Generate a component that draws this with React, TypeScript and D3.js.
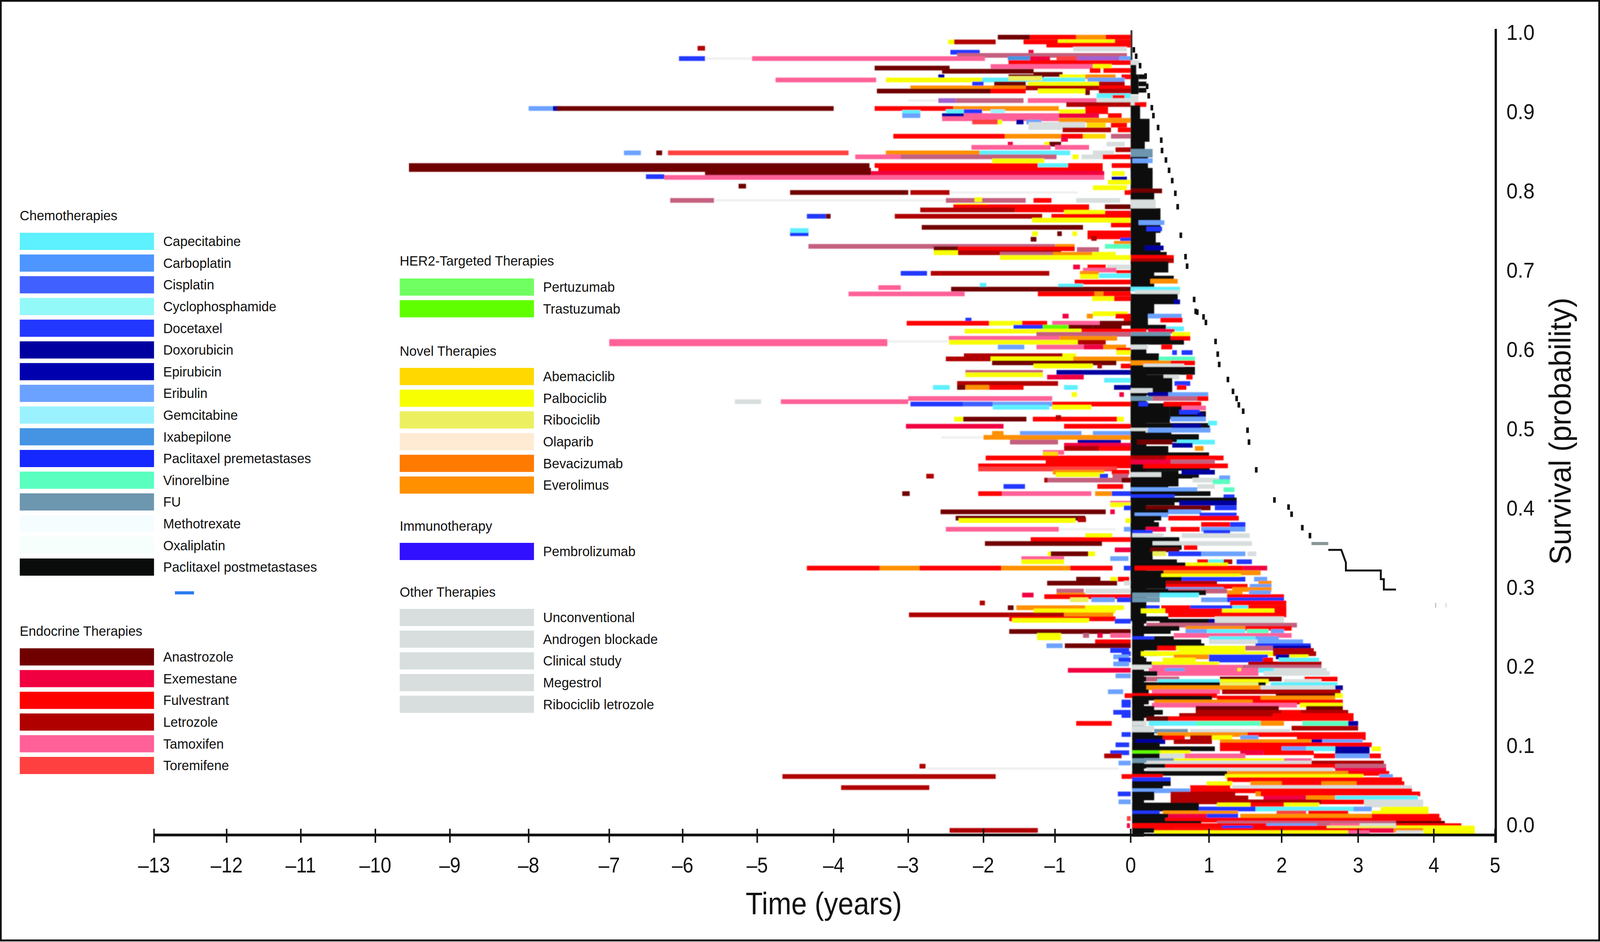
import { scaleLinear, scaleOrdinal, line as d3_line } from "d3";

// [survival, from year, to year, therapy, optional survival where a solid block ends]
type Bar = [number, number, number, string, number?];

const chemoNames = ["Capecitabine", "Carboplatin", "Cisplatin", "Cyclophosphamide", "Docetaxel", "Doxorubicin", "Epirubicin", "Eribulin", "Gemcitabine", "Ixabepilone", "Paclitaxel premetastases", "Vinorelbine", "FU", "Methotrexate", "Oxaliplatin", "Paclitaxel postmetastases"];
const chemoCodes = ["CAP", "CAR", "CIS", "CYC", "DOC", "DOX", "EPI", "ERI", "GEM", "IXA", "PRE", "VIN", "FU", "MTX", "OXA", "PST"];
const chemoColors = ["#5df0ff", "#4d96ff", "#4060ff", "#92f8f8", "#2238ff", "#0000a0", "#0000ae", "#6ca2ff", "#9bf2ff", "#4593e3", "#1428ff", "#5affc0", "#6d96af", "#f6fdff", "#f6fffb", "#0a0b0b"];
const endocrineNames = ["Anastrozole", "Exemestane", "Fulvestrant", "Letrozole", "Tamoxifen", "Toremifene"];
const endocrineCodes = ["ANA", "EXE", "FUL", "LET", "TAM", "TOR"];
const endocrineColors = ["#700000", "#f00040", "#ff0000", "#b00000", "#ff6098", "#ff4040"];
const her2Names = ["Pertuzumab", "Trastuzumab"];
const her2Codes = ["PER", "TRA"];
const her2Colors = ["#70ff60", "#60ff00"];
const novelNames = ["Abemaciclib", "Palbociclib", "Ribociclib", "Olaparib", "Bevacizumab", "Everolimus"];
const novelCodes = ["ABE", "PAL", "RIB", "OLA", "BEV", "EVE"];
const novelColors = ["#ffd800", "#f8ff00", "#ecf060", "#ffebd4", "#ff7a00", "#ff9000"];
const immunoNames = ["Pembrolizumab"];
const immunoCodes = ["PEM"];
const immunoColors = ["#3010ff"];
const otherNames = ["Unconventional", "Androgen blockade", "Clinical study", "Megestrol", "Ribociclib letrozole"];
const otherCodes = ["OTH", "AND", "CLI", "MEG", "RLE"];
const otherColors = ["#d8dede", "#d8dede", "#d8dede", "#d8dede", "#d8dede"];
// overlapping treatments show up as blended colours, gaps between lines as a faint trace
const blendCodes = ["MIX", "PUR", "FNT"];
const blendColors = ["#c4607e", "#a060d0", "#f0f0f0"];

const xTicks = [-13, -12, -11, -10, -9, -8, -7, -6, -5, -4, -3, -2, -1, 0, 1, 2, 3, 4, 5];
const xTickPx = [405, 596, 791, 987, 1183, 1390, 1602, 1795, 1991, 2192, 2388, 2586, 2774, 2973, 3179, 3370, 3571, 3770, 3931];
const yTicks = [0, 0.1, 0.2, 0.3, 0.4, 0.5, 0.6, 0.7, 0.8, 0.9, 1];

const zeroColumn: Bar[] = [
  [1, 0, 0.02, "PST", 0.95], [0.66, 0, 0.2, "PST", 0.46], [0.46, 0, 0.2, "PST", 0.26], [0.26, 0.02, 0.17, "PST", -0.012],
  [0.529, 0, 0.5, "PST", 0.51], [0.526, 0.5, 0.83, "PST", 0.522], [0.519, 0.5, 0.96, "PST", 0.515], [0.504, 0.1, 1.01, "PST"],
  [0.495, 0, 0.52, "PST", 0.485], [0.49, 0.5, 0.87, "PST", 0.486], [0.475, 0, 0.48, "PST", 0.466], [0.467, 0.45, 1, "PST"],
  [0.464, 0, 0.4, "PST", 0.454], [0.456, 0.4, 0.76, "PST", 0.454], [0.45, 0, 1.01, "PST"], [0.444, 0, 0.61, "PST", 0.43], [0.44, 0.6, 0.87, "PST"],
  [0.428, 0, 0.48, "PST", 0.417],
];

const faintTraces: Bar[] = [
  [0.967, -5.7, -5.07, "FNT"], [0.788, -5.58, -2.5, "FNT"], [0.534, -5.3, -4.95, "OTH"], [0.61, -3.28, -2.46, "FNT"], [0.798, -2.45, -0.7, "FNT"],
  [0.071, -2.75, -0.16, "FNT"], [0.373, -0.95, -0.2, "FNT"],
];

const beforeZero100: Bar[] = [
  [0.994, -1.8, -1.35, "ANA"], [0.994, -1.35, -0.72, "FUL"], [0.994, -0.72, -0.33, "EVE"], [0.994, -0.33, 0, "FUL"],
  [0.988, -2.47, -2.39, "PAL"], [0.988, -2.39, -1.83, "LET"], [0.988, -1.44, -0.96, "FUL"], [0.988, -0.96, -0.21, "PAL"], [0.988, -0.21, 0, "FUL"],
  [0.984, -1.12, 0, "FUL"], [0.98, -5.8, -5.7, "LET"], [0.979, -0.76, -0.05, "OTH"],
  [0.975, -2.44, -2.05, "DOC"], [0.975, -1.37, -1.3, "EXE"], [0.971, -2.35, -0.05, "MIX"],
  [0.967, -6.05, -5.7, "DOC"], [0.967, -5.07, -1.98, "TAM"], [0.967, -1.66, -1.35, "IXA"], [0.967, -1.35, -1.07, "EXE"], [0.967, -0.98, -0.71, "TOR"], [0.967, -0.71, -0.15, "PUR"], [0.967, -0.15, 0, "ERI"],
  [0.962, -1.65, 0, "FUL"], [0.957, -1.9, -0.5, "TAM"], [0.957, -0.5, -0.25, "PAL"],
  [0.955, -3.45, -2.45, "ANA"], [0.951, -2.55, -1.3, "ANA"], [0.952, -0.54, -0.4, "FUL"], [0.952, -0.36, 0, "FUL"], [0.947, -1.3, -0.9, "ANA"],
  [0.944, -2.6, -2.52, "DOX"], [0.944, -1.65, -1.16, "ANA"], [0.944, -0.94, -0.6, "PAL"], [0.944, -0.6, -0.2, "EVE"], [0.944, -0.12, 0, "FUL"],
  [0.94, -4.76, -3.43, "TAM"], [0.94, -3.3, -2.02, "PAL"], [0.94, -2.02, -0.6, "CAP"], [0.942, -1.65, -1.18, "RIB"], [0.94, -0.57, -0.08, "ERI"],
  [0.935, -2.15, -2, "DOC"], [0.935, -1.85, -1.41, "ANA"], [0.935, -1.38, -0.42, "PAL"], [0.935, -0.42, -0.08, "LET"],
  [0.93, -2.97, -1.88, "EVE"], [0.93, -1.88, -1.41, "BEV"], [0.93, -1.41, -0.42, "LET"], [0.93, -0.42, 0, "FUL"],
  [0.926, -3.42, -1.9, "ANA"], [0.926, -1.9, -1.41, "FUL"], [0.926, -1.24, -0.6, "PAL"], [0.924, -0.6, -0.54, "ANA"], [0.926, -0.42, 0, "LET"],
  [0.92, -0.45, 0, "CAP"], [0.918, -0.24, -0.08, "FUL"],
  [0.914, -3, -2.6, "FNT"], [0.914, -2.6, -2.37, "PUR"], [0.914, -2.37, -1.44, "MIX"], [0.914, -1.38, -0.45, "TAM"], [0.914, -0.45, 0, "OTH"],
  [0.909, -0.85, 0, "LET"],
  [0.904, -8, -7.7, "ERI"], [0.904, -7.7, -7.6, "DOX"], [0.904, -7.65, -4, "ANA"], [0.904, -3.45, -2.4, "FUL"], [0.904, -2.4, -0.95, "EVE"], [0.904, -0.6, -0.3, "FUL"],
];

const beforeZero090: Bar[] = [
  [0.9, -2.5, -2.26, "CAP"], [0.9, -2.26, -2.02, "DOC"], [0.9, -1.9, -1.7, "GEM"], [0.9, -0.95, -0.6, "PAL"], [0.9, -0.6, -0.3, "FUL"], [0.899, -3.08, -2.84, "CAP"],
  [0.895, -3.08, -2.84, "ERI"], [0.895, -2.55, -2.26, "DOX"], [0.895, -2.26, -0.95, "TAM"], [0.895, -0.95, -0.42, "EXE"], [0.895, -0.3, -0.12, "FUL"],
  [0.891, -2.55, -0.95, "TAM"], [0.889, -0.95, 0, "EVE"],
  [0.887, -2.15, -1.8, "TOR"], [0.887, -1.8, -1.74, "PAL"], [0.887, -1.54, -1.44, "DOX"], [0.887, -1.4, -1.19, "ERI"],
  [0.884, -1.37, -0.6, "OTH"], [0.88, -1.37, -0.6, "OTH"], [0.883, -0.58, -0.33, "ABE"], [0.883, -0.26, -0.05, "FUL"], [0.877, -0.9, -0.26, "LET"], [0.877, -0.17, 0, "FUL"],
  [0.869, -3.2, -1.7, "FUL"], [0.869, -1.7, -0.92, "EVE"], [0.869, -0.92, -0.63, "FUL"], [0.869, -0.63, -0.33, "ABE"], [0.869, -0.26, 0, "MIX"],
  [0.865, -0.92, -0.83, "EXE"], [0.859, -1.66, -1.59, "EXE"], [0.859, -1.15, -1.08, "PAL"], [0.859, -1.08, -0.92, "ANA"], [0.859, -0.32, -0.08, "OTH"],
  [0.855, -2.16, -1.06, "TAM"], [0.855, -1, -0.55, "TAM"], [0.852, -0.2, 0, "LET"],
  [0.848, -6.8, -6.57, "ERI"], [0.848, -6.36, -6.28, "ANA"], [0.848, -6.2, -3.8, "TOR"], [0.848, -3.3, -2.05, "EVE"], [0.848, -2.05, -0.8, "CAP"], [0.848, -0.5, -0.22, "OTH"],
  [0.843, -3.71, -3.1, "TAM"], [0.843, -3.1, -0.98, "MIX"], [0.843, -0.77, -0.69, "PAL"], [0.843, -0.65, -0.37, "OTH"], [0.843, -0.37, 0, "FUL"],
  [0.838, -1.88, -1.15, "PAL"],
  [0.832, -9.55, -3.52, "ANA"], [0.832, -3.45, -1.24, "FUL"], [0.832, -1.24, -0.83, "CAP"], [0.832, -0.83, -0.37, "FUL"], [0.832, -0.25, 0, "FUL"],
  [0.827, -9.55, -3.52, "ANA"], [0.827, -3.4, -0.37, "FUL"], [0.826, -5.7, -3.5, "ANA"], [0.822, -5.7, -3.5, "ANA"], [0.822, -3.5, -0.35, "EXE"], [0.822, -0.25, -0.08, "PAL"],
  [0.818, -6.5, -6.25, "DOC"], [0.817, -6.25, -0.35, "TAM"], [0.815, -0.25, -0.05, "DOX"],
  [0.811, -0.3, 0, "PAL"], [0.806, -5.25, -5.15, "ANA"], [0.804, -0.5, -0.05, "PAL"],
];

const beforeZero080: Bar[] = [
  [0.798, -4.57, -3, "ANA"], [0.798, -2.97, -2.45, "LET"], [0.798, -0.08, 0, "FUL"],
  [0.788, -6.17, -5.58, "MIX"], [0.788, -2.5, -1.41, "MIX"], [0.788, -1.3, -1.05, "FUL"], [0.788, -0.72, -0.14, "OTH"], [0.789, -2.12, -2.02, "PAL"],
  [0.781, -2.38, -1.95, "PAL"], [0.78, -2.4, -0.55, "FUL"], [0.78, -0.34, 0, "ANA"],
  [0.776, -2.84, -1.56, "LET"], [0.776, -1.56, -0.55, "FUL"], [0.773, -0.88, -0.34, "PAL"], [0.772, -0.34, 0, "FUL"],
  [0.768, -4.35, -4.1, "DOC"], [0.768, -4.1, -4.04, "ANA"], [0.768, -3.18, -1.18, "LET"], [0.768, -1.05, -0.34, "FUL"], [0.768, -0.34, 0, "FUL"],
  [0.763, -1.32, 0, "PAL"], [0.757, -0.26, 0, "FUL"], [0.754, -2.82, -0.63, "ANA"],
  [0.746, -4.57, -4.33, "DOC"], [0.75, -4.57, -4.33, "CAP"], [0.746, -1.32, -1.24, "PAL"], [0.746, -0.97, -0.91, "ANA"], [0.746, -0.77, -0.71, "PAL"], [0.747, -0.57, 0, "FUL"], [0.742, -0.57, 0, "FUL"],
  [0.74, -0.52, -0.45, "LET"], [0.739, -1.34, -1.26, "ANA"], [0.738, -0.14, 0, "DOC"], [0.734, -0.22, 0, "EVE"],
  [0.73, -4.33, -1, "MIX"], [0.73, -1, -0.74, "EVE"], [0.73, -0.34, 0, "VIN"], [0.727, -2.66, -2.34, "ANA"], [0.727, -2.34, -1.2, "FUL"], [0.727, -1.2, -0.74, "FUL"], [0.726, -0.71, -0.42, "MIX"],
  [0.722, -2.66, -2.34, "PAL"], [0.722, -2.34, -0.92, "LET"], [0.72, -1.77, -1.03, "MIX"], [0.72, -1.03, -0.51, "EVE"], [0.72, -0.51, -0.2, "PAL"],
  [0.716, -1.77, 0, "PAL"], [0.704, -0.76, -0.67, "EXE"], [0.704, -0.57, -0.33, "FUL"], [0.704, -0.31, 0, "OTH"],
  [0.7, -0.63, -0.19, "TAM"], [0.697, -0.19, 0, "FUL"],
  [0.696, -3.1, -2.75, "DOC"], [0.696, -2.7, -1.08, "LET"], [0.696, -0.67, -0.42, "EVE"], [0.692, -0.67, -0.42, "PAL"], [0.693, -0.42, 0, "CAP"],
  [0.685, -0.74, 0, "FUL"], [0.681, -2.05, -1.96, "CAP"], [0.68, -0.96, -0.63, "CAP"], [0.678, -3.4, -3.1, "TAM"],
  [0.676, -2.43, 0, "ANA"], [0.67, -3.8, -2.25, "TAM"], [0.67, -1.24, 0, "FUL"], [0.67, -0.48, -0.36, "EVE"], [0.664, -0.51, -0.22, "PAL"], [0.664, -0.22, 0, "FUL"],
];

const beforeZero060: Bar[] = [
  [0.645, -0.5, -0.04, "PAL"], [0.642, -0.9, -0.82, "EXE"], [0.642, -0.58, -0.5, "EVE"], [0.642, -0.2, 0, "FUL"], [0.637, -0.09, 0, "FUL"], [0.637, -2.24, -2.16, "DOC"],
  [0.633, -3.02, -1.92, "FUL"], [0.633, -1.92, -1.46, "PAL"], [0.633, -1.46, -1.11, "FUL"], [0.633, -1.04, -0.41, "TAM"], [0.633, -0.41, 0, "ANA"],
  [0.628, -1.58, -1.17, "DOC"], [0.628, -1.17, -0.82, "TRA"], [0.628, -0.82, -0.5, "ANA"], [0.628, -0.5, -0.12, "ANA"],
  [0.623, -2.25, -0.65, "PAL"], [0.623, -0.65, 0, "FUL"], [0.619, -1.26, 0, "MIX"],
  [0.614, -2.46, -0.94, "TAM"], [0.614, -0.94, -0.18, "EVE"], [0.61, -7, -3.28, "TAM"], [0.607, -7, -3.28, "TAM"], [0.609, -2.46, -0.7, "PAL"], [0.609, -0.7, -0.33, "LET"],
  [0.603, -1.8, -1.43, "ERI"], [0.603, -1.26, -0.62, "TAM"], [0.603, -0.62, -0.36, "EXE"], [0.603, -0.36, -0.06, "EVE"],
  [0.599, -0.19, 0, "FUL"], [0.596, -0.19, 0, "PAL"], [0.592, -2.26, -0.9, "LET"], [0.592, -0.9, -0.72, "PAL"],
  [0.588, -2.5, -1.9, "LET"], [0.588, -1.9, -0.76, "PAL"], [0.588, -0.76, 0, "EVE"], [0.583, -1.88, -0.19, "ANA"],
  [0.579, -1.3, -0.5, "PAL"], [0.579, -0.44, -0.38, "LET"], [0.579, -0.13, 0, "FUL"],
  [0.571, -2.24, -1.17, "MIX"], [0.571, -0.98, 0, "DOX"], [0.568, -2.24, -1.17, "PAL"], [0.565, -1.11, -0.62, "EXE"], [0.561, -0.35, 0, "CAP"],
  [0.557, -2.35, -0.96, "LET"], [0.552, -2.67, -2.45, "CAP"], [0.552, -2.35, -2.24, "ANA"], [0.552, -2.24, -1.92, "EVE"], [0.552, -1.92, -1.44, "FUL"], [0.552, -0.88, -0.7, "CAP"], [0.552, -0.22, 0, "DOX"],
  [0.543, -0.78, -0.71, "PAL"], [0.543, -0.15, -0.09, "EXE"], [0.534, -4.69, -3, "TAM"], [0.538, -3, -1.04, "TAM"],
  [0.531, -2.97, -2.27, "DOC"], [0.531, -2.27, -1.87, "CIS"], [0.531, -1.87, -1.04, "ERI"], [0.531, -1.04, 0, "FUL"], [0.527, -1.87, -1.08, "CAP"], [0.527, -1.04, -0.52, "PAL"],
  [0.512, -2.39, -2.27, "PAL"], [0.512, -2.27, -1.4, "ANA"], [0.512, -1.31, -0.18, "FUL"], [0.514, -0.99, -0.92, "LET"], [0.512, -0.18, -0.09, "PAL"],
  [0.503, -3.03, -1.72, "EXE"], [0.503, -0.88, 0, "FUL"], [0.494, -1.88, -1.72, "EVE"], [0.494, -1.49, -0.65, "ERI"], [0.494, -0.5, 0, "ERI"],
  [0.489, -2.56, -2, "FNT"], [0.489, -2, 0, "EVE"], [0.483, -1.63, -0.96, "MIX"], [0.483, -0.7, -0.13, "DOX"],
  [0.479, -0.88, 0, "EXE"], [0.475, -0.88, -0.42, "LET"], [0.475, -0.42, 0, "FUL"], [0.47, -1.17, -0.88, "TAM"], [0.468, -1.17, -0.96, "ABE"],
  [0.463, -1.97, 0, "FUL"], [0.458, -1.13, 0, "FUL"], [0.453, -2.07, 0, "FUL"], [0.449, -2.07, -0.18, "TOR"],
];

const beforeZero040: Bar[] = [
  [0.445, -1.03, -0.35, "EVE"], [0.445, -0.25, -0.02, "FUL"], [0.442, -0.99, -0.35, "PAL"], [0.44, -2.76, -2.66, "LET"], [0.44, -0.41, -0.3, "DOC"], [0.44, -0.24, -0.03, "MIX"],
  [0.435, -1.15, -1.1, "LET"], [0.435, -1.1, 0, "MIX"], [0.435, -0.12, 0, "ANA"], [0.427, -1.72, -1.42, "DOC"], [0.427, -0.44, -0.1, "FUL"],
  [0.418, -3.08, -2.98, "ANA"], [0.418, -2.07, -1.74, "FUL"], [0.418, -1.74, -0.52, "TAM"], [0.418, -0.47, -0.25, "EVE"], [0.418, -0.25, 0, "DOC"],
  [0.406, -0.27, 0, "TAM"], [0.404, -0.27, 0, "PAL"], [0.4, -0.09, 0, "DOC"],
  [0.395, -2.57, -0.33, "ANA"], [0.395, -0.27, -0.21, "EXE"], [0.387, -2.37, -0.6, "ANA"], [0.385, -2.16, -1.81, "ANA"], [0.385, -0.7, -0.59, "LET"], [0.384, -2.33, -0.73, "PAL"], [0.384, -0.07, 0, "PAL"],
  [0.373, -2.5, -0.95, "TAM"], [0.373, -0.09, 0, "ERI"], [0.365, -0.6, -0.24, "PAL"], [0.36, -1.34, 0, "FUL"],
  [0.355, -1.98, -0.38, "ANA"], [0.347, -0.21, 0, "EXE"], [0.342, -1.08, -0.56, "ANA"], [0.342, -1.1, -1.06, "PAL"], [0.342, -0.56, -0.47, "PAL"],
  [0.336, -1.47, -0.88, "TAM"], [0.336, -0.27, -0.03, "ERI"], [0.332, -1.47, -0.88, "PAL"],
  [0.324, -4.35, -3.38, "FUL"], [0.324, -3.38, -2.85, "EVE"], [0.324, -2.85, -1.75, "FUL"], [0.324, -1.75, -0.8, "EVE"], [0.324, -0.8, -0.24, "FUL"], [0.324, -0.09, 0, "DOC"],
  [0.31, -0.72, -0.4, "ANA"], [0.31, -0.27, -0.18, "PAL"], [0.31, -0.17, -0.02, "FUL"], [0.305, -1.11, -0.18, "ANA"], [0.305, -0.09, 0, "OTH"],
  [0.295, -0.98, -0.62, "MIX"], [0.29, -0.98, -0.6, "EVE"], [0.295, -0.6, 0, "OTH"],
  [0.29, -1.46, -1.3, "EXE"], [0.288, -1.15, 0, "FUL"], [0.284, -0.8, -0.56, "RIB"], [0.284, -0.52, -0.21, "ERI"], [0.284, -0.18, 0, "DOC"], [0.28, -2.05, -1.98, "LET"],
  [0.274, -1.66, -1.58, "ANA"], [0.274, -1.54, -0.6, "EVE"], [0.274, -0.6, -0.09, "PAL"], [0.27, -1.3, -0.2, "PAL"],
  [0.265, -2.99, -1.64, "LET"], [0.265, -1.64, -0.88, "LET"], [0.265, -0.88, -0.23, "EVE"], [0.26, -1.64, -0.52, "FUL"], [0.258, -1.6, -0.55, "PAL"], [0.26, -0.52, -0.2, "FUL"], [0.257, -0.21, 0, "DOC"],
];

const beforeZero020: Bar[] = [
  [0.244, -1.64, 0, "ANA"], [0.239, -1.25, -0.92, "PAL"], [0.236, -1.25, -0.92, "PAL"], [0.239, -0.63, -0.55, "MIX"], [0.239, -0.44, -0.37, "EXE"], [0.239, -0.27, 0, "TAM"],
  [0.231, -0.47, 0, "FUL"], [0.226, -1.12, -0.9, "ERI"], [0.226, -0.87, 0, "ANA"], [0.22, -0.27, -0.02, "DOC"], [0.216, -0.12, 0, "DOC"], [0.212, -0.23, -0.02, "ERI"], [0.208, -0.16, 0, "DOC"],
  [0.203, -0.23, -0.02, "ERI"], [0.195, -0.83, 0, "EXE"], [0.188, -0.2, 0, "ERI"], [0.168, -0.3, -0.1, "ERI"], [0.163, -0.08, 0, "FUL"], [0.155, -0.12, 0, "DOC"], [0.151, -0.12, 0, "DOC"],
  [0.142, -0.23, 0, "DOC"], [0.138, -0.12, 0, "DOC"], [0.128, -0.72, -0.25, "FUL"], [0.114, -0.12, 0, "DOC"], [0.101, -0.2, -0.02, "DOC"], [0.091, -0.27, -0.02, "DOC"],
  [0.087, -0.35, -0.12, "LET"], [0.078, -0.16, 0, "ERI"], [0.074, -2.85, -2.77, "LET"],
  [0.061, -4.67, -1.83, "LET"], [0.061, -0.12, 0, "FUL"], [0.047, -3.9, -2.72, "LET"], [0.039, -0.17, 0, "DOC"], [0.029, -0.16, 0, "ERI"],
  [0.008, -0.05, 0, "TOR"], [-0.001, -0.05, -0.01, "EXE"], [-0.007, -2.45, -1.24, "LET"],
];

const afterZeroUpper: Bar[] = [
  [0.958, 0, 0.07, "PST", 0.948], [0.962, 0, 0.12, "OTH"], [0.944, 0, 0.1, "PST", 0.925], [0.944, 0.1, 0.2, "PST"], [0.935, 0.1, 0.2, "PST"], [0.927, 0.1, 0.2, "PST"], [0.918, 0, 0.1, "OTH", 0.91], [0.909, 0.05, 0.2, "FUL"],
  [0.905, 0, 0.12, "PST", 0.893], [0.888, 0, 0.24, "PST", 0.865], [0.86, 0, 0.18, "PST", 0.852], [0.85, 0, 0.28, "FU", 0.845], [0.84, 0, 0.22, "PST", 0.828], [0.838, 0.02, 0.28, "ERI"],
  [0.826, 0, 0.28, "PST", 0.802], [0.8, 0, 0.4, "ANA"], [0.795, 0, 0.3, "PST", 0.788], [0.786, 0, 0.32, "OTH", 0.776], [0.775, 0, 0.38, "PST", 0.75], [0.752, 0.2, 0.4, "DOC"], [0.76, 0.1, 0.43, "ERI"],
  [0.745, 0, 0.32, "PST", 0.735], [0.732, 0, 0.38, "PST", 0.722], [0.728, 0.18, 0.42, "DOX"], [0.72, 0, 0.46, "PST", 0.718], [0.716, 0, 0.55, "FUL"], [0.712, 0, 0.55, "LET"], [0.708, 0, 0.48, "PST", 0.7],
  [0.698, 0, 0.3, "PST", 0.678], [0.69, 0.25, 0.55, "PST"], [0.686, 0.25, 0.6, "EVE"], [0.676, 0, 0.63, "CAP"], [0.672, 0.05, 0.63, "OTH"], [0.667, 0, 0.6, "PST", 0.66], [0.66, 0.55, 0.63, "DOX"],
  [0.656, 0, 0.3, "PST", 0.646],
  [0.645, 0, 0.22, "PST", 0.63], [0.642, 0.22, 0.65, "ERI"], [0.637, 0.38, 0.66, "FUL"], [0.628, 0, 0.45, "PST"], [0.626, 0.45, 0.68, "CAP"], [0.623, 0.22, 0.56, "EXE"], [0.623, 0, 0.2, "FUL"],
  [0.619, 0, 0.51, "FU"], [0.619, 0.53, 0.76, "PAL"], [0.614, 0, 0.51, "PST"], [0.614, 0.51, 0.76, "FUL"], [0.609, 0, 0.68, "PST"], [0.603, 0, 0.22, "OTH"], [0.603, 0.39, 0.53, "FUL"], [0.596, 0.53, 0.59, "DOC"], [0.596, 0.65, 0.79, "DOC"],
  [0.592, 0, 0.36, "PST", 0.58], [0.588, 0.36, 0.82, "VIN"], [0.583, 0, 0.51, "EVE"], [0.583, 0.51, 0.82, "FUL"], [0.579, 0.16, 0.68, "OTH"],
  [0.575, 0, 0.82, "PST"], [0.571, 0, 0.82, "PST"], [0.565, 0, 0.42, "PST"], [0.565, 0.42, 0.62, "OTH"], [0.565, 0.71, 0.79, "FUL"], [0.561, 0, 0.53, "PST", 0.545], [0.557, 0.56, 0.76, "DOC"], [0.552, 0.59, 0.71, "FUL"],
  [0.548, 0, 0.28, "OTH"], [0.543, 0.22, 0.48, "DOX"], [0.543, 0.48, 0.99, "ERI"], [0.538, 0, 0.28, "FU"], [0.538, 0.28, 0.85, "MIX"], [0.538, 0.85, 0.99, "FUL"],
  [0.531, 0.1, 0.22, "DOC"], [0.531, 0.42, 0.9, "FUL"], [0.526, 0.65, 0.96, "TAM"], [0.521, 0.62, 0.88, "DOC"],
  [0.517, 0.85, 0.93, "DOX"], [0.512, 0.51, 0.96, "ERI"], [0.507, 0.99, 1.11, "CAP"],
  [0.503, 0.53, 0.9, "DOX"], [0.498, 0, 0.22, "OTH"], [0.498, 0.22, 1.02, "ERI"], [0.494, 0, 0.19, "PST"], [0.483, 0.08, 0.53, "ANA"], [0.483, 0.59, 1.08, "CAP"],
  [0.479, 0.53, 0.79, "DOX"], [0.475, 0.82, 0.93, "EVE"],
  [0.463, 0, 0.45, "LET"], [0.463, 0.45, 1.2, "FUL"], [0.458, 0, 0.51, "EXE"], [0.458, 0.51, 1.08, "MIX"], [0.453, 0.16, 1.26, "FUL"],
  [0.445, 0.65, 1.08, "DOX"], [0.442, 0, 0.39, "OTH"], [0.438, 1.14, 1.29, "ERI"], [0.435, 0.79, 1.14, "OTH"], [0.433, 1.05, 1.29, "VIN"],
  [0.427, 0.85, 1.08, "OTH"], [0.423, 0, 0.85, "ERI"], [0.423, 1.2, 1.35, "VIN"], [0.418, 0, 1.02, "PST"], [0.414, 0, 0.56, "DOC"], [0.414, 1.2, 1.35, "DOC"],
  [0.41, 0, 1.38, "PST"], [0.406, 0, 0.56, "PST"], [0.406, 0.62, 1.38, "DOX"], [0.402, 0, 0.19, "PST"], [0.4, 0.19, 1.02, "ANA"], [0.4, 1.08, 1.38, "DOC"],
  [0.395, 0, 0.48, "PST"], [0.395, 0.48, 0.9, "ERI"], [0.391, 0.05, 0.48, "ERI"], [0.391, 0.88, 1.38, "DOC"], [0.387, 0, 0.39, "PST"], [0.387, 0.48, 1.41, "FUL"], [0.383, 0, 0.3, "PST"],
  [0.379, 0, 0.36, "PST"], [0.379, 0.9, 1.29, "FUL"], [0.379, 1.29, 1.5, "DOC"], [0.373, 0, 0.19, "PST"], [0.373, 0.19, 0.45, "EXE"], [0.373, 0.51, 0.88, "FUL"], [0.373, 0.9, 1.5, "ERI"],
  [0.369, 0.02, 0.28, "DOC"], [0.369, 0.93, 1.29, "DOC"], [0.365, 0.02, 0.42, "OTH"], [0.365, 0.65, 1.56, "OTH"], [0.36, 0.02, 0.62, "PST"], [0.355, 0, 0.28, "PST"], [0.355, 0.28, 1.59, "OTH"],
  [0.35, 0, 0.65, "PST"], [0.35, 0.68, 0.85, "FUL"], [0.347, 0, 0.25, "PST"], [0.347, 0.25, 0.62, "ANA"], [0.342, 0, 0.28, "PST"], [0.342, 0.28, 0.45, "RIB"], [0.342, 0.48, 0.9, "DOC"], [0.342, 0.9, 1.5, "ERI"], [0.342, 1.53, 1.65, "OTH"],
  [0.337, 0, 0.28, "PST"], [0.332, 0, 0.59, "PST"], [0.332, 0.85, 0.99, "FUL"], [0.332, 0.99, 1.2, "CAP"], [0.332, 1.2, 1.32, "LET"], [0.332, 1.38, 1.59, "DOC"], [0.328, 0, 0.7, "PST"], [0.328, 0.7, 1.26, "PAL"],
  [0.324, 0.05, 1.47, "FUL"], [0.324, 1.47, 1.8, "EXE"], [0.318, 0, 0.42, "PST"], [0.318, 0.42, 1.71, "EVE"], [0.314, 0, 0.39, "PST"], [0.314, 0.39, 1.44, "PAL"],
  [0.31, 0, 0.65, "PST"], [0.31, 0.65, 1.5, "DOC"], [0.31, 1.62, 1.8, "ERI"], [0.305, 0, 0.45, "PST"], [0.305, 0.45, 1.11, "LET"], [0.305, 1.68, 1.86, "EVE"], [0.301, 0, 0.45, "PST"], [0.301, 0.45, 1.53, "FUL"], [0.301, 1.56, 1.86, "ERI"],
  [0.297, 0.45, 1.2, "ERI"], [0.297, 1.32, 1.86, "EVE"], [0.295, 0.02, 0.48, "PST"], [0.295, 0.48, 1.25, "MIX"], [0.293, 0, 0.96, "PST"], [0.293, 1.25, 1.46, "EVE"], [0.293, 1.55, 1.85, "ERI"],
];

const afterZero030: Bar[] = [
  [0.29, 0.02, 0.37, "FU"], [0.29, 0.37, 0.87, "CAP"], [0.288, 1.25, 2.03, "FUL"], [0.284, 0.02, 0.37, "FU"], [0.284, 0.9, 1.25, "ERI"], [0.284, 1.25, 2.03, "DOC"], [0.28, 1.29, 2.06, "FUL"],
  [0.274, 0.02, 0.23, "PST"], [0.274, 0.2, 0.37, "DOC"], [0.274, 0.39, 0.76, "FUL"], [0.274, 0.76, 1.32, "DOC"], [0.274, 1.32, 1.54, "CAP"], [0.274, 1.54, 2.06, "FUL"],
  [0.27, 0.13, 0.44, "PAL"], [0.27, 0.44, 1.18, "FUL"], [0.27, 1.18, 1.9, "PAL"], [0.27, 1.9, 2.06, "FUL"], [0.265, 0.48, 2.06, "FUL"], [0.26, 0.02, 0.48, "PST"], [0.26, 1.08, 2.03, "OTH"],
  [0.257, 0.02, 0.2, "PST"], [0.257, 0.37, 1, "PST"], [0.257, 1, 1.08, "DOX"], [0.257, 1.08, 2.03, "OTH"], [0.252, 0.2, 0.62, "MIX"], [0.252, 0.62, 2.2, "MIX"],
  [0.248, 0.02, 0.62, "PST"], [0.248, 0.7, 1.5, "EVE"], [0.248, 1.5, 2.13, "FUL"], [0.244, 0.02, 0.51, "PST"], [0.244, 0.7, 0.97, "ERI"], [0.244, 0.97, 1.5, "CAP"], [0.244, 1.52, 1.82, "VIN"], [0.244, 1.85, 2.03, "ERI"],
  [0.239, 0.55, 2.13, "TAM"], [0.235, 0.02, 0.3, "DOC"], [0.235, 0.3, 0.55, "PST"], [0.235, 1, 1.64, "CAP"], [0.235, 1.64, 1.96, "ERI"], [0.231, 0.02, 0.9, "PST"], [0.231, 1, 1.67, "OTH"], [0.231, 1.67, 2.28, "ERI"],
  [0.226, 0.02, 0.94, "PST"], [0.226, 1.64, 2.38, "DOC"],
  [0.223, 0.02, 0.34, "PST"], [0.223, 0.34, 0.58, "FUL"], [0.223, 0.58, 1.5, "PAL"], [0.223, 1.5, 1.88, "MIX"], [0.223, 1.88, 2.38, "DOX"], [0.22, 0.62, 1.5, "PAL"], [0.22, 1.88, 2.42, "LET"],
  [0.216, 0.02, 0.34, "PST"], [0.216, 0.13, 1.88, "PAL"], [0.216, 1.88, 2.45, "LET"], [0.212, 0.55, 1, "EVE"], [0.212, 1, 1.81, "DOC"], [0.212, 1.92, 2.1, "DOX"], [0.212, 2.1, 2.35, "PAL"],
  [0.208, 0.02, 0.2, "PST"], [0.208, 0.41, 0.83, "PAL"], [0.208, 1, 1.81, "DOC"], [0.208, 1.74, 1.88, "FUL"], [0.208, 1.96, 2.49, "CAP"], [0.203, 0.02, 0.27, "PST"], [0.203, 0.27, 1.14, "PAL"], [0.203, 1.54, 2.52, "LET"],
];

const afterZero020: Bar[] = [
  [0.199, 0.02, 0.27, "OTH"], [0.199, 0.27, 1.46, "TAM"], [0.199, 1.46, 2.52, "MIX"], [0.195, 0.23, 1.68, "TAM"], [0.195, 0.44, 0.69, "ERI"], [0.195, 1.39, 1.44, "PAL"], [0.195, 1.68, 1.89, "CAP"], [0.195, 1.89, 2.59, "OTH"],
  [0.191, 0.02, 0.34, "PST"], [0.191, 0.34, 1.68, "TAM"], [0.191, 1.75, 2.63, "OTH"], [0.184, 0.02, 0.2, "PST"], [0.184, 0.2, 0.62, "MIX"], [0.184, 1.15, 2, "ANA"], [0.184, 2.3, 2.73, "FUL"],
  [0.181, 0.34, 1.15, "CAP"], [0.181, 1.15, 1.82, "PAL"], [0.181, 2.03, 2.52, "OTH"], [0.177, 0.02, 1.78, "PST"], [0.177, 1.15, 1.68, "RIB"], [0.177, 1.85, 2.73, "CAP"],
  [0.173, 0.02, 0.27, "PST"], [0.173, 0.2, 1.82, "EVE"], [0.173, 1.71, 2.7, "OTH"], [0.173, 2.7, 2.8, "DOX"], [0.168, 0.02, 0.23, "PST"], [0.168, 0.27, 1.15, "TAM"], [0.168, 1.18, 2.77, "LET"],
  [0.163, 0, 1.11, "FUL"], [0.163, 1.92, 2.7, "ANA"], [0.163, 2.7, 2.8, "PAL"], [0.16, 0.02, 1.04, "PST"], [0.16, 1.11, 1.88, "FUL"], [0.16, 1.71, 2.7, "EVE"],
  [0.155, 0.02, 0.23, "PST"], [0.155, 0.3, 1.6, "EVE"], [0.155, 1.6, 2.8, "FUL"], [0.151, 0.27, 2.2, "TAM"], [0.151, 2.24, 2.8, "PAL"], [0.147, 0.02, 0.3, "PST"], [0.147, 0.83, 1.96, "ANA"], [0.147, 2.32, 2.8, "ANA"],
  [0.142, 0.02, 0.41, "PST"], [0.142, 0.83, 2, "LET"], [0.142, 2, 2.25, "FUL"], [0.142, 2.25, 2.87, "LET"], [0.138, 0.02, 0.3, "PST"], [0.138, 0.62, 1.88, "LET"], [0.138, 1.88, 2.94, "FUL"],
  [0.134, 0.2, 0.48, "ANA"], [0.134, 0.48, 2.94, "FUL"], [0.128, 0.02, 0.2, "OTH"], [0.128, 0.23, 0.83, "CAP"], [0.128, 0.83, 1.71, "VIN"], [0.128, 1.71, 2.03, "EVE"], [0.128, 2.27, 2.87, "VIN"], [0.128, 2.87, 3, "DOX"],
  [0.122, 0.02, 0.3, "OTH"], [0.122, 2.13, 3, "LET"], [0.118, 0.02, 0.27, "OTH"], [0.118, 0.3, 0.73, "FU"], [0.118, 0.76, 2.11, "OTH"],
  [0.114, 0.02, 0.3, "PST"], [0.114, 0.34, 1.53, "EVE"], [0.114, 1.53, 3.1, "FUL"], [0.11, 0.02, 0.41, "PST"], [0.11, 0.41, 0.69, "FUL"], [0.11, 0.76, 1.04, "LET"], [0.11, 1.04, 1.32, "PAL"], [0.11, 1.43, 1.68, "ERI"], [0.11, 2.2, 3.1, "FUL"],
  [0.105, 0.06, 0.44, "DOX"], [0.105, 0.55, 1.04, "LET"], [0.105, 1.15, 2.39, "EVE"], [0.105, 2.39, 2.53, "DOX"], [0.105, 2.53, 3.06, "ERI"], [0.101, 0.02, 0.37, "PST"], [0.101, 1.15, 3.18, "FUL"],
  [0.096, 0.02, 1.08, "PST"], [0.096, 1.15, 2, "FUL"], [0.096, 2, 2.32, "ERI"], [0.096, 2.32, 2.7, "CAP"], [0.096, 2.7, 3.15, "DOX"], [0.096, 3.18, 3.3, "PAL"],
  [0.091, 0.02, 0.37, "TRA"], [0.091, 0.37, 0.76, "PAL"], [0.091, 1.43, 1.75, "EXE"], [0.091, 1.75, 2.42, "FUL"], [0.091, 2.7, 3.15, "DOX"],
  [0.087, 0.02, 0.37, "PST"], [0.087, 0.37, 0.69, "OTH"], [0.087, 0.69, 1.5, "TAM"], [0.087, 2.42, 2.7, "FUL"], [0.087, 2.7, 3.15, "ERI"], [0.087, 3.15, 3.3, "FUL"], [0.084, 0.69, 1.5, "TAM"],
  [0.081, 0.02, 0.58, "FU"], [0.081, 0.55, 2.03, "PAL"], [0.081, 2.03, 2.39, "TAM"], [0.078, 0.2, 2.39, "OTH"], [0.078, 2.39, 3.34, "LET"], [0.074, 0.02, 0.44, "PST"], [0.074, 0.44, 2.7, "FUL"], [0.074, 2.7, 3.37, "MIX"],
  [0.069, 0.2, 2.68, "OTH"], [0.069, 2.7, 3.37, "EXE"], [0.065, 0.02, 1.25, "PST"], [0.065, 1.25, 2.87, "EVE"], [0.065, 2.87, 3.41, "FUL"], [0.061, 0, 0.41, "FUL"], [0.061, 1.22, 3.07, "PAL"], [0.061, 3.28, 3.46, "ERI"],
  [0.057, 0.02, 0.51, "DOC"], [0.057, 1.25, 3.58, "FUL"], [0.052, 0.02, 0.51, "PST"], [0.052, 0.97, 1.32, "PAL"], [0.052, 1.57, 2, "EVE"], [0.052, 2, 2.52, "FUL"], [0.052, 2.52, 2.98, "EVE"], [0.052, 2.98, 3.61, "FUL"],
  [0.047, 0.02, 0.41, "PST"], [0.047, 0.76, 1.29, "FUL"], [0.047, 1.32, 3.71, "OTH"], [0.043, 0.02, 0.76, "ERI"], [0.043, 0.76, 1.32, "FUL"], [0.043, 1.32, 3.71, "FUL"],
  [0.039, 0.02, 0.3, "PST"], [0.039, 0.51, 1.36, "LET"], [0.039, 1.64, 1.71, "EVE"], [0.039, 1.71, 3.82, "FUL"], [0.034, 0.02, 0.3, "PST"], [0.034, 0.51, 1.54, "LET"], [0.034, 1.75, 2.32, "EXE"], [0.034, 2.32, 2.7, "EVE"], [0.034, 2.7, 3.79, "CAP"],
  [0.029, 0.51, 2.52, "LET"], [0.029, 2.52, 3.08, "FUL"], [0.029, 3.08, 3.86, "OTH"], [0.025, 0.02, 0.87, "PST"], [0.025, 1.11, 1.57, "PAL"], [0.025, 1.57, 2.03, "FUL"], [0.025, 2.03, 2.49, "PAL"], [0.025, 3.08, 3.86, "OTH"],
  [0.02, 0.02, 0.87, "PST"], [0.02, 0.87, 1.64, "DOC"], [0.02, 1.64, 2.94, "CAP"], [0.02, 2.94, 3.18, "ERI"], [0.02, 3.3, 3.93, "PAL"], [0.015, 0.02, 0.37, "DOC"], [0.015, 0.41, 1.4, "EVE"], [0.015, 1.93, 2.32, "TOR"], [0.015, 2.35, 2.87, "FUL"], [0.015, 3.18, 3.93, "PAL"],
  [0.011, 0.02, 0.48, "PST"], [0.011, 0.48, 0.97, "EXE"], [0.011, 0.97, 1.4, "DOC"], [0.011, 1.43, 3.18, "EVE"], [0.011, 3.18, 4.09, "FUL"], [0.006, 0.02, 0.44, "PST"], [0.006, 0.44, 3, "FUL"], [0.006, 3, 4.12, "FUL"],
  [0.002, 0.02, 0.9, "PST"], [0.002, 1.11, 3.5, "MIX"], [0.002, 3.5, 4.18, "ANA"], [-0.001, 0.02, 1.79, "FUL"], [-0.001, 1.79, 2.46, "ERI"], [-0.001, 2.63, 3.02, "TAM"], [-0.001, 3.02, 3.5, "OTH"], [-0.001, 3.5, 4.45, "FUL"],
  [-0.004, 0.02, 0.55, "FUL"], [-0.004, 1.18, 1.6, "DOC"], [-0.004, 1.6, 2.59, "FUL"], [-0.004, 2.59, 3.47, "RIB"], [-0.004, 3.5, 4.67, "PAL"], [-0.007, 0.02, 0.3, "PST"], [-0.007, 0.3, 3.08, "FUL"], [-0.007, 3.08, 3.47, "EXE"], [-0.007, 3.47, 3.86, "EVE"], [-0.007, 3.86, 4.67, "PAL"],
  [-0.01, 0.3, 2.87, "PAL"], [-0.01, 2.87, 3.15, "TAM"], [-0.01, 3.5, 3.86, "OTH"], [-0.01, 3.86, 4.67, "PAL"],
];

// censored survival dashes to the right of the bars
const survivalTimes = [0.04, 0.07, 0.12, 0.19, 0.21, 0.23, 0.27, 0.29, 0.35, 0.39, 0.4, 0.45, 0.49, 0.53, 0.57, 0.6, 0.64, 0.7, 0.72, 0.81, 0.83, 0.85, 0.93, 0.96, 1.09, 1.12, 1.14, 1.26, 1.33, 1.38, 1.41, 1.47, 1.53, 1.55, 1.65, 1.9, 2.09, 2.13, 2.27, 2.37];
const survivalProbs = [0.978, 0.97, 0.958, 0.945, 0.932, 0.92, 0.905, 0.895, 0.88, 0.864, 0.851, 0.839, 0.826, 0.813, 0.797, 0.78, 0.744, 0.717, 0.705, 0.663, 0.648, 0.647, 0.641, 0.634, 0.61, 0.594, 0.581, 0.562, 0.547, 0.538, 0.53, 0.522, 0.498, 0.483, 0.448, 0.41, 0.401, 0.392, 0.375, 0.365];
const tailTimes = [2.61, 2.78, 2.84, 2.84, 3.3, 3.3, 3.34, 3.34, 3.5];
const tailProbs = [0.347, 0.347, 0.331, 0.321, 0.321, 0.31, 0.31, 0.297, 0.297];

const allBars = [faintTraces, zeroColumn, beforeZero100, beforeZero090, beforeZero080, beforeZero060, beforeZero040, beforeZero020, afterZeroUpper, afterZero030, afterZero020].flat();

const x = scaleLinear().domain(xTicks).range(xTickPx);
const y = scaleLinear().domain([0, 1]).range([2112, 83]);
const color = scaleOrdinal<string, string>()
  .domain([...chemoCodes, ...endocrineCodes, ...her2Codes, ...novelCodes, ...immunoCodes, ...otherCodes, ...blendCodes])
  .range([...chemoColors, ...endocrineColors, ...her2Colors, ...novelColors, ...immunoColors, ...otherColors, ...blendColors]);

const FONT = "'Liberation Sans', Arial, sans-serif";
const BAR_H = 12;

function Legend({ x0, titleY, firstY, title, names, colors }: { x0: number; titleY: number; firstY: number; title: string; names: string[]; colors: string[] }) {
  const step = 55.6;
  return (
    <g fontFamily={FONT} fontSize={35} fill="#111">
      <text x={x0} y={titleY} dominantBaseline="central">{title}</text>
      {names.map((name, i) => (
        <g key={name}>
          <rect x={x0} y={firstY + i * step} width={353} height={44} fill={colors[i]} />
          <text x={x0 + 377} y={firstY + i * step + 22} dominantBaseline="central">{name}</text>
        </g>
      ))}
    </g>
  );
}

export default function App() {
  const tail = d3_line<number>()
    .x((d) => x(d))
    .y((_, i) => y(tailProbs[i]))(tailTimes);

  return (
    // the browser window tops out narrower than the picture, so the drawing is fitted to it
    <svg
      viewBox="0 0 4207 2412"
      preserveAspectRatio="none"
      style={{ position: "absolute", left: 0, top: 0, width: "100vw", height: "100vh", display: "block", background: "#fff" }}
    >
      <defs>
        <filter id="soft" x="0" y="0" width="100%" height="100%">
          <feGaussianBlur stdDeviation="1.1" />
        </filter>
      </defs>
      <rect x={2} y={2} width={4203} height={2406} fill="none" stroke="#111" strokeWidth={5} />

      {/* Barras de tratamiento */}
      <g filter="url(#soft)">
        {allBars.map((d, i) => (
          <rect
            key={i}
            x={x(d[1])}
            width={Math.max(x(d[2]) - x(d[1]), 1)}
            y={y(d[0]) - (d[3] === "FNT" ? 3 : BAR_H / 2)}
            height={d[3] === "FNT" ? 6 : d[4] === undefined ? BAR_H : y(d[4]) - y(d[0]) + BAR_H}
            fill={color(d[3])}
          />
        ))}
      </g>

      {/* Curva de supervivencia */}
      <g stroke="#111" fill="none">
        {survivalTimes.map((t, i) => (
          <line key={i} x1={x(t)} x2={x(t)} y1={y(survivalProbs[i]) - 7} y2={y(survivalProbs[i]) + 7} strokeWidth={7} />
        ))}
        <line x1={x(2.39)} x2={x(2.61)} y1={y(0.355)} y2={y(0.355)} stroke="#8a9696" strokeWidth={8} />
        <path d={tail ?? ""} strokeWidth={5} />
        <line x1={x(4.03)} x2={x(4.03)} y1={y(0.277) - 6} y2={y(0.277) + 6} stroke="#bbb" strokeWidth={3} />
        <line x1={x(4.2)} x2={x(4.2)} y1={y(0.277) - 6} y2={y(0.277) + 6} stroke="#ddd" strokeWidth={3} />
      </g>

      {/* Ejes */}
      <line x1={405} x2={3933} y1={2138} y2={2138} stroke="#111" strokeWidth={7} />
      <line x1={3933} x2={3933} y1={74} y2={2158} stroke="#111" strokeWidth={6} />
      {xTicks.map((t) => (
        <g key={t} transform={`translate(${x(t)},0)`}>
          <line y1={2122} y2={2158} stroke="#111" strokeWidth={4} />
          <text transform="translate(0,2214) scale(0.9,1)" textAnchor="middle" dominantBaseline="central" fontFamily={FONT} fontSize={56} fill="#111">
            {t < 0 ? `–${-t}` : t}
          </text>
        </g>
      ))}
      {yTicks.map((t) => (
        <text key={t} x={3961} y={y(t)} dominantBaseline="central" fontFamily={FONT} fontSize={56} fill="#111" textLength={74} lengthAdjust="spacingAndGlyphs">
          {t.toFixed(1)}
        </text>
      ))}
      <text x={2166} y={2314} textAnchor="middle" dominantBaseline="central" fontFamily={FONT} fontSize={80} fill="#111" textLength={411} lengthAdjust="spacingAndGlyphs">
        Time (years)
      </text>
      <text transform="translate(4103,1104) rotate(-90)" textAnchor="middle" dominantBaseline="central" fontFamily={FONT} fontSize={80} fill="#111" textLength={684} lengthAdjust="spacingAndGlyphs">
        Survival (probability)
      </text>

      {/* Leyendas */}
      <Legend x0={52} titleY={552} firstY={596} title="Chemotherapies" names={chemoNames} colors={chemoColors} />
      <rect x={460} y={1514} width={50} height={8} fill="#2a7cf0" />
      <Legend x0={52} titleY={1616} firstY={1660} title="Endocrine Therapies" names={endocrineNames} colors={endocrineColors} />
      <Legend x0={1051} titleY={668} firstY={713} title="HER2-Targeted Therapies" names={her2Names} colors={her2Colors} />
      <Legend x0={1051} titleY={899} firstY={942} title="Novel Therapies" names={novelNames} colors={novelColors} />
      <Legend x0={1051} titleY={1347} firstY={1390} title="Immunotherapy" names={immunoNames} colors={immunoColors} />
      <Legend x0={1051} titleY={1516} firstY={1559} title="Other Therapies" names={otherNames} colors={otherColors} />
    </svg>
  );
}
